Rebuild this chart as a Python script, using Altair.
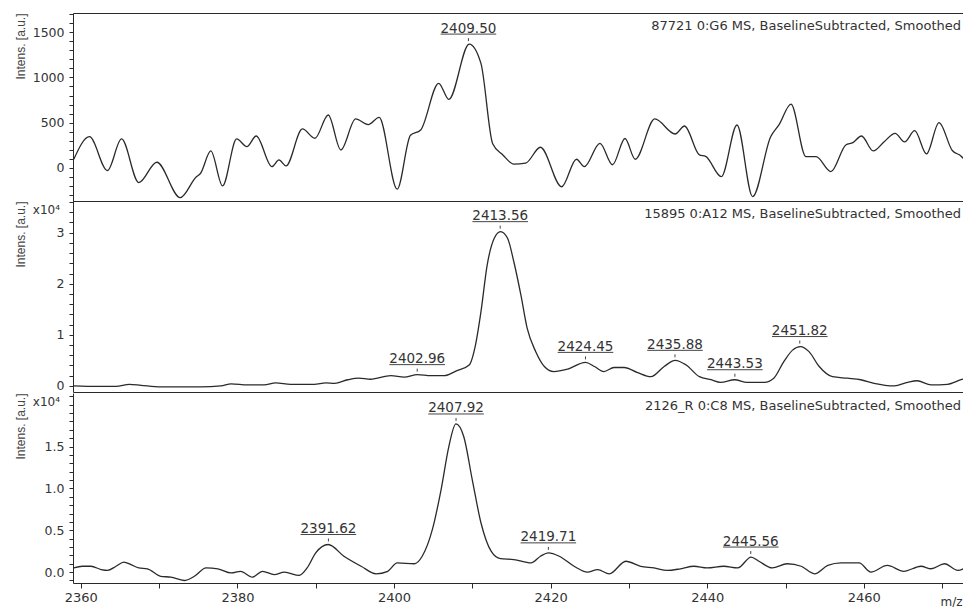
import altair as alt
import pandas as pd

# ---------------- data ----------------
p1_mz = [2359.1, 2361.1, 2363.4, 2365.2, 2367.4, 2369.7, 2372.7, 2374.7, 2375.3, 2376.6,
         2378.1, 2379.9, 2381.2, 2382.4, 2384.4, 2385.3, 2386.2, 2388.3, 2389.9, 2391.6,
         2393.2, 2395.1, 2396.7, 2398.1, 2400.4, 2402.1, 2403.4, 2405.7, 2407.0, 2409.6,
         2411.1, 2412.6, 2413.9, 2415.3, 2416.8, 2418.7, 2421.4, 2423.3, 2424.3, 2426.3,
         2427.9, 2429.5, 2430.8, 2433.3, 2435.9, 2437.1, 2439.0, 2439.8, 2441.8, 2443.8,
         2445.8, 2448.1, 2449.2, 2450.7, 2452.6, 2453.9, 2455.8, 2457.7, 2458.6, 2459.7,
         2461.2, 2462.6, 2464.0, 2465.2, 2466.5, 2468.0, 2469.6, 2471.3, 2472.4, 2473.7]
p1_int = [93, 343, -33, 318, -166, 60, -332, -106, -62, 185,
          -203, 318, 233, 351, 11, 85, 19, 429, 326, 584,
          196, 540, 478, 558, -239, 359, 417, 935, 757, 1370,
          1156, 265, 141, 38, 49, 226, -212, 93, 11, 270,
          32, 323, 93, 540, 373, 462, 141, 125, -100, 473,
          -321, 343, 480, 705, 122, 122, -44, 251, 277, 351,
          185, 288, 381, 285, 410, 152, 500, 190, 130, -7]

p2_mz = [2359.1, 2362.1, 2364.5, 2366.2, 2367.7, 2370.2, 2372.8, 2375.3, 2377.9, 2379.2,
         2381.3, 2383.4, 2384.9, 2386.8, 2389.8, 2391.3, 2392.4, 2394.1, 2395.5, 2397.0,
         2399.6, 2401.3, 2403.0, 2404.7, 2406.4, 2407.9, 2409.6, 2410.4, 2411.1, 2411.9,
         2412.8, 2413.6, 2414.5, 2415.3, 2416.2, 2417.0, 2418.1, 2419.2, 2420.4, 2422.2,
         2424.45, 2425.6, 2426.8, 2428.1, 2429.4, 2431.1, 2432.8, 2434.5, 2435.9, 2437.3,
         2439.0, 2440.5, 2441.7, 2443.5, 2445.1, 2447.3, 2448.5, 2449.8, 2450.9, 2451.9,
         2453.0, 2454.3, 2456.0, 2457.9, 2459.6, 2461.3, 2463.9, 2465.6, 2466.8, 2468.6,
         2470.7, 2472.4, 2473.8]
p2_int = [0.0, -0.01, -0.01, 0.03, 0.01, -0.02, -0.02, -0.02, 0.0, 0.04,
          0.02, 0.02, 0.06, 0.03, 0.03, 0.06, 0.05, 0.12, 0.15, 0.13,
          0.2, 0.17, 0.22, 0.2, 0.2, 0.29, 0.41, 0.8, 1.45, 2.37,
          2.89, 3.02, 2.89, 2.43, 1.78, 1.13, 0.67, 0.38, 0.28, 0.33,
          0.46, 0.38, 0.28, 0.36, 0.36, 0.26, 0.18, 0.38, 0.5, 0.41,
          0.18, 0.12, 0.07, 0.12, 0.07, 0.07, 0.15, 0.48, 0.7, 0.77,
          0.67, 0.38, 0.18, 0.15, 0.12, 0.05, 0.0, 0.07, 0.1, 0.02,
          0.03, 0.12, 0.18]

p3_mz = [2359.1, 2360.2, 2361.3, 2362.6, 2363.4, 2364.5, 2365.5, 2366.4, 2367.4, 2368.5,
         2370.2, 2371.5, 2373.2, 2374.5, 2376.0, 2377.5, 2379.2, 2380.4, 2381.9, 2383.2,
         2384.7, 2386.0, 2387.9, 2388.9, 2390.0, 2391.6, 2393.6, 2395.8, 2397.7, 2399.2,
         2400.4, 2402.6, 2403.6, 2404.9, 2406.0, 2407.0, 2407.9, 2408.9, 2410.0, 2411.1,
         2412.4, 2413.6, 2415.3, 2417.5, 2418.7, 2419.7, 2421.1, 2423.0, 2424.7, 2426.0,
         2427.5, 2429.6, 2431.5, 2433.2, 2434.9, 2436.6, 2438.3, 2440.0, 2442.1, 2443.9,
         2445.6, 2446.6, 2448.3, 2450.2, 2452.0, 2453.7, 2455.4, 2457.1, 2459.4, 2460.9,
         2463.0, 2465.1, 2467.3, 2468.6, 2470.3, 2472.0, 2473.7]
p3_int = [0.05, 0.07, 0.07, 0.03, 0.02, 0.07, 0.12, 0.09, 0.05, 0.04,
          -0.05, -0.06, -0.1, -0.05, 0.05, 0.04, -0.01, 0.01, -0.06, 0.01,
          -0.03, 0.0, -0.04, 0.05, 0.23, 0.33, 0.19, 0.07, -0.02, 0.01,
          0.11, 0.1, 0.19, 0.51, 0.98, 1.5, 1.77, 1.62, 1.1, 0.59,
          0.25, 0.16, 0.15, 0.11, 0.19, 0.23, 0.19, 0.07, 0.0, 0.03,
          -0.02, 0.13, 0.07, 0.05, 0.02, 0.04, 0.07, 0.05, 0.07, 0.05,
          0.18, 0.13, 0.05, 0.1, 0.07, -0.02, 0.08, 0.11, 0.11, 0.0,
          0.08, 0.01, 0.07, 0.04, 0.1, 0.02, 0.1]

peaks1_mz = [2409.50]
peaks1_int = [1370]
peaks2_mz = [2402.96, 2413.56, 2424.45, 2435.88, 2443.53, 2451.82]
peaks2_int = [0.22, 3.02, 0.46, 0.50, 0.12, 0.77]
peaks3_mz = [2391.62, 2407.92, 2419.71, 2445.56]
peaks3_int = [0.33, 1.77, 0.23, 0.18]

headers = ["87721 0:G6 MS, BaselineSubtracted, Smoothed",
           "15895 0:A12 MS, BaselineSubtracted, Smoothed",
           "2126_R 0:C8 MS, BaselineSubtracted, Smoothed"]

x_ticks = list(range(2360, 2471, 10))
y1_ticks = list(range(-300, 1701, 100))
y2_ticks = [round(i * 0.2, 1) for i in range(0, 19)]
y3_ticks = [round(i * 0.1, 1) for i in range(-1, 22)]

# ---------------- styling ----------------
FONT = "DejaVu Sans"
INK = "#2a2a2a"
TXT = "#333333"
W = 890
XDOM = [2359.0, 2359.0 + W / 7.83]
HALF = 3.55  # half width of the peak-label underline, in m/z units


def xscale():
    return alt.Scale(domain=XDOM, nice=False, zero=False)


def y_axis(values, test, fmt):
    return alt.Axis(
        values=values,
        labelExpr=f"({test}) ? format(datum.value, '{fmt}') : ''",
        tickSize=4,
        tickColor=INK, domainColor=INK, grid=False,
        labelFont=FONT, labelFontSize=12.5, labelColor=TXT, labelPadding=5,
        title="Intens. [a.u.]", titleFont="Liberation Sans", titleFontSize=12,
        titleFontWeight="normal", titleColor="#444444", titleAnchor="end",
        titleAngle=-90, titleAlign="right", titleBaseline="middle", titleX=-53,
    )


def panel(mz, inten, pk_mz, pk_int, header, ydom, yaxis, height, line_xaxis,
          other_xaxis, exp_label=None):
    df = pd.DataFrame({"mz": mz, "intens": inten})
    pk = pd.DataFrame({"mz": pk_mz, "intens": pk_int,
                       "label": [f"{m:.2f}" for m in pk_mz]})

    def ysc():
        return alt.Scale(domain=ydom, nice=False, zero=False)

    line = alt.Chart(df).mark_line(color=INK, strokeWidth=1.3, interpolate="monotone",
                                   clip=True).encode(
        x=alt.X("mz:Q", scale=xscale(), axis=line_xaxis, title=None),
        y=alt.Y("intens:Q", scale=ysc(), axis=yaxis),
    )

    labels = alt.Chart(pk).mark_text(font=FONT, fontSize=13.5, color=TXT,
                                     baseline="alphabetic", dy=-11.5).encode(
        x=alt.X("mz:Q", scale=xscale(), axis=other_xaxis, title=None),
        y=alt.Y("intens:Q", scale=ysc(), axis=yaxis),
        text="label:N",
    )
    under = alt.Chart(pk).transform_calculate(
        x1=f"datum.mz - {HALF}", x2=f"datum.mz + {HALF}"
    ).mark_rule(color="#444444", strokeWidth=1, yOffset=-10).encode(
        x=alt.X("x1:Q", scale=xscale(), axis=other_xaxis, title=None),
        x2="x2:Q",
        y=alt.Y("intens:Q", scale=ysc(), axis=yaxis),
    )
    tick = alt.Chart(pk).mark_rule(color="#444444", strokeWidth=1,
                                   yOffset=-6, y2Offset=-3).encode(
        x=alt.X("mz:Q", scale=xscale(), axis=other_xaxis, title=None),
        y=alt.Y("intens:Q", scale=ysc(), axis=yaxis),
        y2="intens:Q",
    )
    head = alt.Chart(pd.DataFrame({"t": [header]})).mark_text(
        font=FONT, fontSize=13, color=TXT, align="right", baseline="middle"
    ).encode(x=alt.value(W - 2), y=alt.value(13), text="t:N")

    layers = [line, labels, under, tick, head]
    if exp_label is not None:
        exp = alt.Chart(pd.DataFrame({"t": [exp_label]})).mark_text(
            font=FONT, fontSize=12, color=TXT, align="right", baseline="middle"
        ).encode(x=alt.value(-13), y=alt.value(9), text="t:N")
        layers.append(exp)

    ch = alt.layer(*layers).properties(width=W, height=height)
    if other_xaxis is not line_xaxis:
        ch = ch.resolve_axis(x="independent")
    return ch


domain_only = dict(labels=False, ticks=False, domain=True, grid=False,
                   domainColor=INK)

top_axis = alt.Axis(orient="top", **domain_only)
plain_bottom = alt.Axis(orient="bottom", **domain_only)

p1 = panel(p1_mz, p1_int, peaks1_mz, peaks1_int, headers[0], [-370, 1715],
           y_axis(y1_ticks, "datum.value % 500 === 0", "d"), 188,
           top_axis, plain_bottom)

p2 = panel(p2_mz, p2_int, peaks2_mz, peaks2_int, headers[1], [-0.12, 3.62],
           y_axis(y2_ticks, "abs(datum.value - round(datum.value)) < 1e-6", "d"), 191,
           plain_bottom, plain_bottom, exp_label="x10\u2074")

bottom_axis = alt.Axis(
    orient="bottom", values=x_ticks,
    labelExpr="datum.value % 20 === 0 ? format(datum.value, 'd') : ''",
    tickSize=5,
    tickColor=INK, domainColor=INK, grid=False,
    labelFont=FONT, labelFontSize=13, labelColor=TXT, labelPadding=3,
    title="m/z", titleFont=FONT, titleFontSize=12, titleFontWeight="normal",
    titleColor=TXT, titleX=W - 23, titleY=22, titleAlign="left",
    titleBaseline="alphabetic",
)

p3 = panel(p3_mz, p3_int, peaks3_mz, peaks3_int, headers[2], [-0.13, 2.14],
           y_axis(y3_ticks,
                  "abs(datum.value * 2 - round(datum.value * 2)) < 1e-6 && datum.value < 1.9",
                  ".1f"),
           190, bottom_axis, bottom_axis, exp_label="x10\u2074")

chart = alt.vconcat(p1, p2, p3, spacing=0).properties(
    padding={"left": 5, "top": 5, "right": 0, "bottom": 0}
).configure(font=FONT, background="white", view=alt.ViewConfig(stroke=None))

chart.save("out.html", embed_options={"renderer": "svg", "actions": False})
